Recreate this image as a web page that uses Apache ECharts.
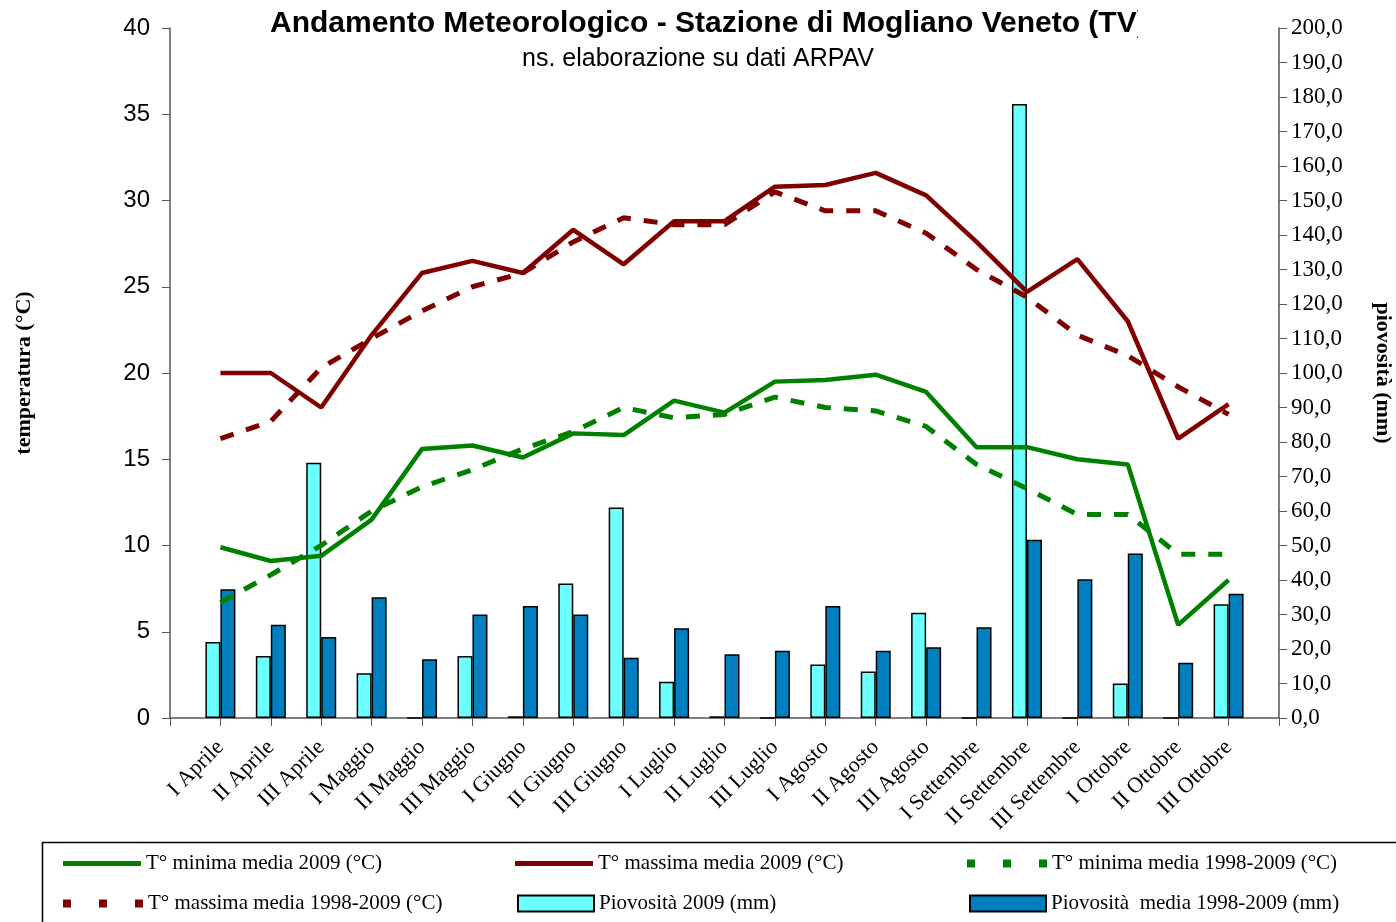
<!DOCTYPE html>
<html>
<head>
<meta charset="utf-8">
<script src="https://cdn.jsdelivr.net/npm/echarts@6/dist/echarts.min.js"></script>
<style>
html, body { margin: 0; padding: 0; background: #fff; }
#chart { width: 1396px; height: 922px; }
</style>
</head>
<body>
<div id="chart"></div>
<script>
// decadi (categorie)
var categories = ['I Aprile','II Aprile','III Aprile','I Maggio','II Maggio','III Maggio',
    'I Giugno','II Giugno','III Giugno','I Luglio','II Luglio','III Luglio',
    'I Agosto','II Agosto','III Agosto','I Settembre','II Settembre','III Settembre',
    'I Ottobre','II Ottobre','III Ottobre'];

// temperature (°C)
var tMin2009 = [9.9, 9.1, 9.4, 11.5, 15.6, 15.8, 15.1, 16.5, 16.4, 18.4, 17.7, 19.5, 19.6, 19.9, 18.9, 15.7, 15.7, 15.0, 14.7, 5.4, 8.0];
var tMax2009 = [20.0, 20.0, 18.0, 22.2, 25.8, 26.5, 25.8, 28.3, 26.3, 28.8, 28.8, 30.8, 30.9, 31.6, 30.3, 27.6, 24.7, 26.6, 23.0, 16.2, 18.2];
var tMinMedia = [6.7, 8.3, 10.0, 12.0, 13.4, 14.4, 15.6, 16.6, 18.0, 17.4, 17.6, 18.6, 18.0, 17.8, 16.9, 14.7, 13.3, 11.8, 11.8, 9.5, 9.5];
var tMaxMedia = [16.2, 17.2, 20.3, 22.0, 23.6, 25.0, 25.8, 27.6, 29.0, 28.6, 28.6, 30.5, 29.4, 29.4, 28.1, 26.0, 24.4, 22.2, 21.0, 19.2, 17.6];

// piovosità (mm)
var pioggia2009 = [22, 18, 74, 13, 0, 18, 0.5, 39, 61, 10.5, 0.5, 0, 15.5, 13.5, 30.5, 0, 178, 0, 10, 0, 33];
var pioggiaMedia = [37.3, 27, 23.5, 35, 17, 30, 32.5, 30, 17.5, 26, 18.5, 19.5, 32.5, 19.5, 20.5, 26.3, 51.7, 40.2, 47.7, 16, 36];

// assi
var tempTicks = { min: 0, max: 40, step: 5 };
var rainTicks = { min: 0, max: 200, step: 10 };

// spazio vuoto prima e dopo, come nel grafico originale
function pad(arr) { return ['-'].concat(arr, ['-']); }
var xData = [''].concat(categories, ['']);

var GREEN = '#008000', RED = '#800000', CYAN = '#6CFFFF', BLUE = '#0080C0';
var serif = 'Liberation Serif, Times New Roman, serif';
var sans = 'Liberation Sans, Arial, sans-serif';
var DOTS = 'path://M0,0h8v8h-8z M36,0h8v8h-8z M72,0h8v8h-8z';

var chart = echarts.init(document.getElementById('chart'));

function legendAt(name, left, top, icon, w, h) {
    return {
        data: [{ name: name, icon: icon }], left: left, top: top,
        itemWidth: w, itemHeight: h, symbolKeepAspect: false,
        textStyle: { fontFamily: serif, fontSize: 21, color: '#000' }
    };
}

chart.setOption({
    animation: false,
    title: [
        {
            text: 'Andamento Meteorologico - Stazione di Mogliano Veneto (TV)',
            left: 265, top: 4,
            textStyle: { fontFamily: sans, fontSize: 30, fontWeight: 'bold', color: '#000' }
        },
        {
            text: 'ns. elaborazione su dati ARPAV',
            left: 'center', top: 42,
            textStyle: { fontFamily: sans, fontSize: 25, fontWeight: 'normal', color: '#000' }
        }
    ],
    graphic: [
        {
            type: 'rect', left: 40, top: 840,
            shape: { width: 1380, height: 100 },
            style: { fill: 'none', stroke: '#000', lineWidth: 1.5 },
            z: -1
        },
        {
            // il titolo originale è tagliato
            type: 'rect', left: 1138, top: 0,
            shape: { width: 120, height: 46 },
            style: { fill: '#fff' },
            z: 100
        }
    ],
    legend: [
        legendAt('T° minima media 2009 (°C)', 58, 848, 'rect', 78, 5),
        legendAt('T° massima media 2009 (°C)', 510, 848, 'rect', 78, 5),
        legendAt('T° minima media 1998-2009 (°C)', 962, 848, DOTS, 80, 8),
        legendAt('T° massima media 1998-2009 (°C)', 58, 888, DOTS, 80, 8),
        legendAt('Piovosità 2009 (mm)', 512, 888, 'rect', 76, 16),
        legendAt('Piovosità  media 1998-2009 (mm)', 964, 888, 'rect', 76, 16)
    ],
    grid: { left: 170, right: 117, top: 28, bottom: 204, outerBoundsMode: 'none' },
    xAxis: {
        type: 'category',
        boundaryGap: false,
        data: xData,
        axisLine: { lineStyle: { color: '#555', width: 1.5 } },
        axisTick: { interval: 0, length: 8, lineStyle: { color: '#555' } },
        axisLabel: {
            interval: 0, rotate: 45, margin: 26,
            fontFamily: serif, fontSize: 22, color: '#000'
        }
    },
    yAxis: [
        {
            type: 'value',
            min: tempTicks.min, max: tempTicks.max, interval: tempTicks.step,
            name: 'temperatura (°C)',
            nameLocation: 'middle', nameRotate: 90, nameGap: 135,
            nameTextStyle: { fontFamily: serif, fontSize: 22, fontWeight: 'bold', color: '#000' },
            axisLine: { show: true, lineStyle: { color: '#555', width: 1.5 } },
            axisTick: { show: true, length: 8, lineStyle: { color: '#555' } },
            axisLabel: { fontFamily: sans, fontSize: 24, color: '#000', margin: 20 },
            splitLine: { show: false }
        },
        {
            type: 'value',
            position: 'right',
            min: rainTicks.min, max: rainTicks.max, interval: rainTicks.step,
            name: 'piovosità (mm)',
            nameLocation: 'middle', nameRotate: -90, nameGap: 93,
            nameTextStyle: { fontFamily: serif, fontSize: 22, fontWeight: 'bold', color: '#000' },
            axisLine: { show: true, lineStyle: { color: '#555', width: 1.5 } },
            axisTick: { show: true, length: 8, lineStyle: { color: '#555' } },
            axisLabel: {
                fontFamily: serif, fontSize: 23, color: '#000', margin: 12,
                formatter: function (v) { return v.toFixed(1).replace('.', ','); }
            },
            splitLine: { show: false }
        }
    ],
    series: [
        {
            name: 'Piovosità 2009 (mm)', type: 'bar', yAxisIndex: 1,
            data: pad(pioggia2009), barWidth: 15, barGap: '0%',
            itemStyle: { color: CYAN, borderColor: '#000', borderWidth: 1.5 }, z: 1
        },
        {
            name: 'Piovosità  media 1998-2009 (mm)', type: 'bar', yAxisIndex: 1,
            data: pad(pioggiaMedia), barWidth: 15, barGap: '0%',
            itemStyle: { color: BLUE, borderColor: '#000', borderWidth: 1.5 }, z: 1
        },
        {
            name: 'T° minima media 2009 (°C)', type: 'line', data: pad(tMin2009),
            symbol: 'none', lineStyle: { color: GREEN, width: 4.5 }, itemStyle: { color: GREEN }, z: 5
        },
        {
            name: 'T° massima media 2009 (°C)', type: 'line', data: pad(tMax2009),
            symbol: 'none', lineStyle: { color: RED, width: 4.5 }, itemStyle: { color: RED }, z: 5
        },
        {
            name: 'T° minima media 1998-2009 (°C)', type: 'line', data: pad(tMinMedia),
            symbol: 'none', lineStyle: { color: GREEN, width: 5, type: [14, 13] }, itemStyle: { color: GREEN }, z: 4
        },
        {
            name: 'T° massima media 1998-2009 (°C)', type: 'line', data: pad(tMaxMedia),
            symbol: 'none', lineStyle: { color: RED, width: 5, type: [14, 13] }, itemStyle: { color: RED }, z: 4
        }
    ]
});
</script>
</body>
</html>
